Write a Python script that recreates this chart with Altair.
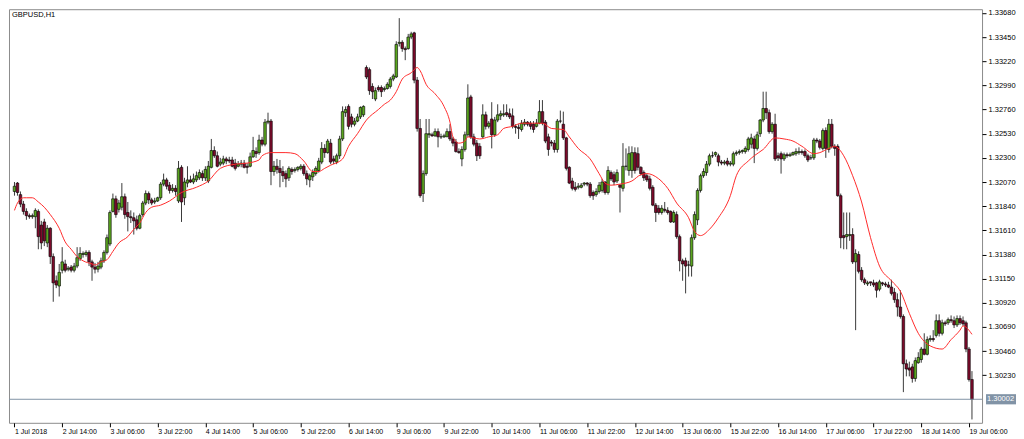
import json
import altair as alt
import pandas as pd

symbol_title = "GBPUSD,H1"

opens = [
1.3198,1.3206,1.3195,1.3186,1.3179,1.3175,1.3174,1.3174,1.3179,1.3166,
1.3169,1.3149,1.3163,1.3136,1.3113,1.3108,1.3123,1.3129,1.3124,1.3126,
1.3123,1.3127,1.3134,1.3138,1.3138,1.3140,1.3131,1.3126,1.3124,1.3126,
1.3132,1.3140,1.3148,1.3179,1.3191,1.3181,1.3183,1.3193,1.3178,1.3174,
1.3173,1.3171,1.3163,1.3176,1.3187,1.3196,1.3190,1.3188,1.3189,1.3192,
1.3205,1.3209,1.3204,1.3199,1.3201,1.3189,1.3221,1.3192,1.3206,1.3209,
1.3207,1.3209,1.3211,1.3215,1.3211,1.3208,1.3221,1.3237,1.3232,1.3224,
1.3225,1.3229,1.3228,1.3228,1.3225,1.3222,1.3224,1.3225,1.3222,1.3222,
1.3231,1.3236,1.3235,1.3247,1.3243,1.3264,1.3265,1.3217,1.3222,1.3220,
1.3217,1.3215,1.3211,1.3219,1.3218,1.3219,1.3220,1.3222,1.3215,1.3209,
1.3212,1.3215,1.3218,1.3226,1.3239,1.3235,1.3244,1.3229,1.3226,1.3232,
1.3248,1.3273,1.3279,1.3269,1.3262,1.3265,1.3269,1.3271,1.3316,1.3314,
1.3298,1.3286,1.3297,1.3297,1.3295,1.3296,1.3298,1.3305,1.3307,1.3339,
1.3340,1.3334,1.3334,1.3345,1.3349,1.3304,1.3258,1.3196,1.3215,1.3252,
1.3252,1.3251,1.3255,1.3250,1.3250,1.3250,1.3255,1.3248,1.3245,1.3236,
1.3229,1.3238,1.3252,1.3288,1.3250,1.3244,1.3241,1.3250,1.3271,1.3260,
1.3267,1.3252,1.3266,1.3270,1.3271,1.3273,1.3272,1.3270,1.3260,1.3259,
1.3257,1.3262,1.3264,1.3263,1.3262,1.3260,1.3263,1.3274,1.3264,1.3250,
1.3245,1.3244,1.3238,1.3265,1.3262,1.3249,1.3221,1.3208,1.3202,1.3202,
1.3202,1.3205,1.3206,1.3205,1.3197,1.3195,1.3198,1.3199,1.3207,1.3197,
1.3216,1.3214,1.3208,1.3204,1.3201,1.3222,1.3218,1.3218,1.3235,1.3234,
1.3221,1.3216,1.3213,1.3210,1.3202,1.3185,1.3182,1.3178,1.3181,1.3180,
1.3179,1.3169,1.3176,1.3155,1.3132,1.3132,1.3128,1.3127,1.3154,1.3171,
1.3199,1.3213,1.3216,1.3224,1.3232,1.3233,1.3232,1.3226,1.3225,1.3227,
1.3224,1.3224,1.3234,1.3235,1.3236,1.3236,1.3238,1.3243,1.3248,1.3239,
1.3253,1.3266,1.3277,1.3273,1.3255,1.3262,1.3232,1.3234,1.3229,1.3233,
1.3232,1.3233,1.3234,1.3235,1.3236,1.3236,1.3232,1.3230,1.3230,1.3247,
1.3246,1.3239,1.3256,1.3238,1.3262,1.3241,
1.3241,1.3194,1.3156,1.3155,1.3156,1.3157,1.3131,1.3138,1.3123,1.3114,
1.3110,
1.3112,1.3111,1.3111,1.3105,1.3111,1.3110,1.3109,1.3107,
1.3102,
1.3095,1.3088,1.3079,1.3034,1.3030,1.3031,1.3020,1.3035,1.3038,1.3048,
1.3043,1.3057,1.3058,1.3061,1.3075,1.3063,1.3073,1.3073,1.3076,1.3075,
1.3071,1.3077,
1.3075,
1.3073,1.3048,1.3019]

closes = [
1.3203,1.3197,1.3186,1.3179,1.3175,1.3174,1.3175,1.3180,1.3155,1.3149,
1.3151,1.3163,1.3136,1.3111,1.3109,1.3121,1.3131,1.3123,1.3125,1.3123,
1.3127,1.3135,1.3139,1.3139,1.3140,1.3131,1.3126,1.3124,1.3127,1.3132,
1.3140,1.3154,1.3178,1.3191,1.3176,1.3187,1.3193,1.3176,1.3174,1.3173,
1.3170,1.3163,1.3175,1.3187,1.3196,1.3190,1.3187,1.3189,1.3192,1.3205,
1.3209,1.3203,1.3199,1.3201,1.3198,1.3220,1.3188,1.3207,1.3209,1.3207,
1.3210,1.3213,1.3216,1.3211,1.3219,1.3222,1.3237,1.3232,1.3222,1.3226,
1.3229,1.3227,1.3227,1.3222,1.3220,1.3224,1.3225,1.3221,1.3221,1.3231,
1.3237,1.3234,1.3247,1.3243,1.3264,1.3265,1.3217,1.3222,1.3219,1.3216,
1.3213,1.3210,1.3220,1.3217,1.3219,1.3221,1.3222,1.3215,1.3210,1.3213,
1.3216,1.3220,1.3227,1.3239,1.3235,1.3246,1.3226,1.3227,1.3232,1.3248,
1.3274,1.3276,1.3260,1.3262,1.3265,1.3269,1.3278,1.3279,1.3307,1.3294,
1.3293,1.3294,1.3295,1.3293,1.3296,1.3300,1.3305,1.3308,1.3338,1.3340,
1.3334,1.3333,1.3345,1.3348,1.3304,1.3258,1.3194,1.3215,1.3253,1.3253,
1.3251,1.3255,1.3250,1.3250,1.3251,1.3255,1.3248,1.3244,1.3236,1.3235,
1.3238,1.3252,1.3287,1.3250,1.3243,1.3232,1.3232,1.3271,1.3260,1.3263,
1.3252,1.3266,1.3271,1.3272,1.3272,1.3271,1.3269,1.3260,1.3259,1.3258,
1.3263,1.3264,1.3262,1.3260,1.3257,1.3263,1.3274,1.3263,1.3246,1.3238,
1.3244,1.3238,1.3265,1.3265,1.3249,1.3220,1.3206,1.3201,1.3200,1.3203,
1.3204,1.3206,1.3205,1.3194,1.3194,1.3198,1.3204,1.3207,1.3197,1.3218,
1.3210,1.3207,1.3216,1.3202,1.3222,1.3222,1.3234,1.3235,1.3218,1.3221,
1.3215,1.3211,1.3209,1.3201,1.3185,1.3178,1.3178,1.3182,1.3180,1.3178,
1.3169,1.3178,1.3155,1.3132,1.3129,1.3127,1.3128,1.3154,1.3176,1.3199,
1.3213,1.3217,1.3224,1.3232,1.3232,1.3235,1.3226,1.3225,1.3226,1.3224,
1.3225,1.3234,1.3235,1.3236,1.3237,1.3239,1.3248,1.3249,1.3239,1.3252,
1.3266,1.3277,1.3273,1.3255,1.3262,1.3229,1.3230,1.3229,1.3233,1.3232,
1.3233,1.3235,1.3236,1.3236,1.3235,1.3232,1.3228,1.3230,1.3247,1.3246,
1.3240,1.3256,1.3239,1.3262,1.3241,1.3239,
1.3194,1.3154,1.3154,1.3157,1.3157,1.3131,1.3139,1.3122,1.3114,1.3111,
1.3111,
1.3111,1.3109,1.3104,1.3112,1.3110,1.3109,1.3107,1.3101,
1.3095,
1.3088,1.3079,1.3034,1.3029,1.3028,1.3020,1.3037,1.3040,1.3048,1.3043,
1.3057,1.3058,1.3057,1.3075,1.3063,1.3073,1.3072,1.3076,1.3075,1.3071,
1.3077,1.3073,
1.3072,
1.3048,1.3019,1.3000]

highs = [
1.3207,1.3207,1.3198,1.3189,1.3182,1.3177,1.3177,1.3182,1.3181,1.3170,
1.3172,1.3166,1.3164,1.3139,1.3118,1.3129,1.3145,1.3133,1.3127,1.3128,
1.3130,1.3145,1.3145,1.3141,1.3142,1.3142,1.3133,1.3130,1.3131,1.3135,
1.3142,1.3157,1.3180,1.3196,1.3194,1.3190,1.3206,1.3196,1.3188,1.3180,
1.3178,1.3175,1.3177,1.3189,1.3199,1.3198,1.3192,1.3192,1.3193,1.3207,
1.3215,1.3211,1.3207,1.3205,1.3204,1.3227,1.3223,1.3211,1.3222,1.3213,
1.3215,1.3217,1.3219,1.3218,1.3222,1.3227,1.3248,1.3241,1.3236,1.3230,
1.3232,1.3231,1.3231,1.3231,1.3229,1.3227,1.3228,1.3228,1.3225,1.3235,
1.3250,1.3240,1.3252,1.3250,1.3267,1.3273,1.3267,1.3227,1.3229,1.3228,
1.3222,1.3218,1.3222,1.3221,1.3221,1.3222,1.3224,1.3224,1.3218,1.3215,
1.3219,1.3222,1.3230,1.3245,1.3243,1.3248,1.3248,1.3232,1.3234,1.3251,
1.3279,1.3279,1.3281,1.3272,1.3268,1.3272,1.3279,1.3280,1.3318,1.3316,
1.3301,1.3297,1.3299,1.3299,1.3298,1.3302,1.3307,1.3310,1.3341,1.3363,
1.3342,1.3336,1.3348,1.3350,1.3350,1.3307,1.3267,1.3218,1.3267,1.3267,
1.3254,1.3258,1.3258,1.3253,1.3253,1.3258,1.3262,1.3250,1.3248,1.3239,
1.3241,1.3255,1.3300,1.3290,1.3253,1.3247,1.3244,1.3281,1.3274,1.3265,
1.3283,1.3269,1.3281,1.3275,1.3281,1.3281,1.3277,1.3277,1.3262,1.3262,
1.3266,1.3267,1.3265,1.3265,1.3265,1.3267,1.3285,1.3285,1.3266,1.3253,
1.3247,1.3247,1.3267,1.3275,1.3274,1.3250,1.3222,1.3211,1.3207,1.3206,
1.3206,1.3207,1.3207,1.3207,1.3199,1.3201,1.3207,1.3210,1.3208,1.3222,
1.3218,1.3217,1.3219,1.3205,1.3244,1.3239,1.3241,1.3241,1.3240,1.3240,
1.3222,1.3218,1.3215,1.3213,1.3204,1.3187,1.3185,1.3185,1.3188,1.3183,
1.3180,1.3180,1.3179,1.3157,1.3134,1.3135,1.3132,1.3157,1.3179,1.3201,
1.3215,1.3220,1.3227,1.3234,1.3236,1.3236,1.3234,1.3228,1.3228,1.3230,
1.3227,1.3236,1.3237,1.3238,1.3238,1.3241,1.3250,1.3253,1.3251,1.3255,
1.3267,1.3293,1.3293,1.3276,1.3264,1.3272,1.3235,1.3236,1.3235,1.3235,
1.3235,1.3236,1.3239,1.3240,1.3238,1.3238,1.3234,1.3233,1.3249,1.3249,
1.3248,1.3258,1.3259,1.3267,1.3267,1.3243,
1.3243,1.3196,1.3178,1.3178,1.3178,1.3163,1.3143,1.3141,1.3126,1.3116,
1.3113,
1.3112,1.3114,1.3112,1.3114,1.3112,1.3112,1.3112,1.3114,
1.3106,
1.3101,1.3104,1.3081,1.3038,1.3036,1.3034,1.3040,1.3045,1.3050,1.3063,
1.3060,1.3061,1.3066,1.3081,1.3081,1.3076,1.3075,1.3078,1.3080,1.3079,
1.3080,1.3080,
1.3079,
1.3075,1.3050,1.3027]

lows = [
1.3194,1.3194,1.3183,1.3176,1.3171,1.3172,1.3172,1.3163,1.3143,1.3143,
1.3146,1.3145,1.3129,1.3093,1.3106,1.3098,1.3120,1.3121,1.3122,1.3121,
1.3121,1.3125,1.3132,1.3135,1.3136,1.3127,1.3113,1.3120,1.3121,1.3124,
1.3130,1.3138,1.3146,1.3178,1.3173,1.3178,1.3180,1.3172,1.3160,1.3168,
1.3157,1.3161,1.3162,1.3174,1.3185,1.3186,1.3185,1.3186,1.3188,1.3190,
1.3203,1.3200,1.3196,1.3197,1.3194,1.3187,1.3169,1.3185,1.3202,1.3206,
1.3205,1.3207,1.3209,1.3208,1.3208,1.3206,1.3220,1.3230,1.3221,1.3222,
1.3223,1.3224,1.3225,1.3221,1.3218,1.3221,1.3221,1.3220,1.3215,1.3221,
1.3230,1.3230,1.3233,1.3241,1.3241,1.3262,1.3204,1.3213,1.3215,1.3202,
1.3207,1.3202,1.3208,1.3214,1.3216,1.3217,1.3218,1.3213,1.3204,1.3202,
1.3208,1.3213,1.3216,1.3224,1.3230,1.3234,1.3224,1.3224,1.3224,1.3229,
1.3246,1.3269,1.3257,1.3259,1.3260,1.3264,1.3267,1.3269,1.3305,1.3290,
1.3286,1.3284,1.3293,1.3288,1.3293,1.3295,1.3296,1.3303,1.3306,1.3336,
1.3331,1.3323,1.3333,1.3343,1.3301,1.3255,1.3192,1.3188,1.3213,1.3249,
1.3250,1.3250,1.3240,1.3248,1.3249,1.3250,1.3246,1.3241,1.3235,1.3234,
1.3222,1.3236,1.3250,1.3248,1.3241,1.3227,1.3229,1.3249,1.3257,1.3258,
1.3239,1.3250,1.3264,1.3266,1.3269,1.3269,1.3267,1.3258,1.3253,1.3248,
1.3255,1.3260,1.3260,1.3257,1.3254,1.3259,1.3262,1.3261,1.3244,1.3232,
1.3241,1.3235,1.3235,1.3263,1.3247,1.3218,1.3205,1.3199,1.3198,1.3200,
1.3201,1.3203,1.3203,1.3192,1.3190,1.3193,1.3196,1.3197,1.3195,1.3195,
1.3208,1.3204,1.3206,1.3178,1.3198,1.3218,1.3213,1.3211,1.3215,1.3218,
1.3213,1.3208,1.3207,1.3199,1.3184,1.3169,1.3176,1.3176,1.3178,1.3176,
1.3168,1.3168,1.3153,1.3122,1.3113,1.3101,1.3117,1.3117,1.3152,1.3166,
1.3197,1.3211,1.3213,1.3222,1.3230,1.3231,1.3222,1.3223,1.3223,1.3222,
1.3222,1.3222,1.3232,1.3233,1.3234,1.3234,1.3236,1.3239,1.3225,1.3237,
1.3250,1.3264,1.3267,1.3253,1.3253,1.3227,1.3227,1.3215,1.3227,1.3230,
1.3231,1.3232,1.3232,1.3233,1.3233,1.3230,1.3226,1.3228,1.3228,1.3244,
1.3238,1.3237,1.3230,1.3235,1.3239,1.3232,
1.3193,1.3144,1.3143,1.3143,1.3151,1.3129,1.3066,1.3120,1.3112,1.3109,
1.3108,
1.3108,1.3107,1.3097,1.3103,1.3108,1.3107,1.3106,1.3099,
1.3092,
1.3079,1.3077,1.3007,1.3022,1.3022,1.3016,1.3017,1.3034,1.3035,1.3042,
1.3042,1.3055,1.3055,1.3059,1.3060,1.3061,1.3070,1.3071,1.3073,1.3068,
1.3069,1.3071,
1.3070,
1.3045,1.3017,1.2981]

ma_idx = [0,1,3,4,6,8,10,12,15,17,19,21,23,26,27,29,31,33,35,38,40,42,44,46,49,52,56,61,65,69,
          74,78,82,83,86,91,94,97,100,102,104,106,110,112,115,118,122,124,126,128,130,133,135,136,138,
          141,144,146,147,149,151,152,156,159,162,164,167,170,174,177,180,184,186,189,193,196,198,200,
          203,207,210,212,216,219,222,226,228,230,233,236,240,242,246,248,251,255,258,261,264,268,270,
          273,275,278,281,284,287,290,294,297,300,303,307,311,314,317,318,321]
ma_val = [1.3180,1.3187,1.3192,1.3192,1.3192,1.3188,1.3183,1.3176,1.3163,1.3150,
          1.3143,1.3136,1.3132,1.3129,1.3128,1.3131,1.3133,1.3141,1.3149,1.3155,
          1.3162,1.3168,1.3178,1.3183,1.3185,1.3189,1.3197,1.3202,1.3208,1.3220,
          1.3224,1.3225,1.3228,1.3232,1.3235,1.3235,1.3234,1.3227,1.3217,1.3217,
          1.3220,1.3223,1.3229,1.3241,1.3253,1.3266,1.3276,1.3281,1.3285,1.3293,
          1.3305,1.3311,1.3316,1.3313,1.3300,1.3291,1.3279,1.3264,1.3250,1.3244,
          1.3246,1.3250,1.3248,1.3250,1.3252,1.3258,1.3260,1.3263,1.3263,1.3263,
          1.3258,1.3257,1.3250,1.3239,1.3229,1.3215,1.3206,1.3204,1.3205,1.3208,
          1.3214,1.3215,1.3210,1.3201,1.3187,1.3173,1.3160,1.3156,1.3162,1.3173,
          1.3194,1.3213,1.3227,1.3232,1.3238,1.3249,1.3248,1.3246,1.3241,1.3234,
          1.3235,1.3239,1.3241,1.3232,1.3213,1.3188,1.3154,1.3127,1.3113,1.3103,
          1.3082,1.3063,1.3051,1.3048,1.3057,1.3066,1.3070,1.3062]

time_labels = ["1 Jul 2018", "2 Jul 14:00", "3 Jul 06:00", "3 Jul 22:00", "4 Jul 14:00",
               "5 Jul 06:00", "5 Jul 22:00", "6 Jul 14:00", "9 Jul 06:00", "9 Jul 22:00",
               "10 Jul 14:00", "11 Jul 06:00", "11 Jul 22:00", "12 Jul 14:00", "13 Jul 06:00",
               "15 Jul 22:00", "16 Jul 14:00", "17 Jul 06:00", "17 Jul 22:00", "18 Jul 14:00",
               "19 Jul 06:00"]
label_step = 16
price_ticks = [1.30230, 1.30460, 1.30690, 1.30920, 1.31150, 1.31380, 1.31610, 1.31840,
               1.32070, 1.32300, 1.32530, 1.32760, 1.32990, 1.33220, 1.33450, 1.33680]
last_price = [1.30002]
last_label = ["1.30002"]

n = len(opens)
df = pd.DataFrame({"i": list(range(n)), "open": opens, "high": highs,
                   "low": lows, "close": closes})
ma_df = pd.DataFrame({"i": ma_idx, "v": ma_val})
lp_df = pd.DataFrame({"p": last_price, "t": last_label})
title_df = pd.DataFrame({"t": [symbol_title]})

W, H = 974, 414
FONT = "Liberation Sans"
BULL = "#5aa51f"
BEAR = "#7c0b2b"

xs = alt.Scale(domain=[-0.16, 322.7], nice=False, zero=False)
ys = alt.Scale(domain=[1.29778, 1.33715], nice=False, zero=False)

x_axis = alt.Axis(values=[k * label_step for k in range(len(time_labels))],
                  labelExpr=json.dumps(time_labels) + "[round(datum.value/16)]",
                  orient="bottom", title=None, grid=False, domain=False,
                  tickSize=4, tickColor="#000", labelAlign="left", labelPadding=1,
                  labelFontSize=7, labelFont=FONT, labelColor="#000",
                  labelOverlap=False, labelFlush=False, labelBound=False)
y_axis = alt.Axis(values=price_ticks, format=".5f", orient="right", title=None,
                  grid=False, domain=False, tickSize=4, tickColor="#000",
                  labelPadding=2, labelFontSize=7.5, labelFont=FONT, labelColor="#000",
                  labelOverlap=False, labelFlush=False, labelBound=False)


def X(field):
    return alt.X(field, scale=xs, axis=x_axis)


def Y(field):
    return alt.Y(field, scale=ys, axis=y_axis)


base = alt.Chart(df)
wicks = base.mark_rule(color="#3a3a3a", strokeWidth=1).encode(
    x=X("i:Q"), y=Y("low:Q"), y2="high:Q",
)
bodies = base.mark_bar(width=2.6, stroke="#000", strokeWidth=0.6).encode(
    x=X("i:Q"), y=Y("open:Q"), y2="close:Q",
    fill=alt.condition("datum.close >= datum.open", alt.value(BULL), alt.value(BEAR)),
)
ma = alt.Chart(ma_df).mark_line(color="#ff2b2b", strokeWidth=1, interpolate="monotone").encode(
    x=X("i:Q"), y=Y("v:Q"),
)
lp_rule = alt.Chart(lp_df).mark_rule(color="#8193a6", strokeWidth=1).encode(
    y=Y("p:Q")
)
lp_box = alt.Chart(lp_df).mark_point(shape="M-1,-0.34H1V0.34H-1Z", size=900, filled=True,
                                     fill="#8193a6", opacity=1, strokeWidth=0).encode(
    x=alt.value(W + 19), y=Y("p:Q"),
)
lp_text = alt.Chart(lp_df).mark_text(align="left", baseline="middle", fontSize=7.5,
                                     font=FONT, color="white").encode(
    x=alt.value(W + 5), y=Y("p:Q"), text="t:N",
)
title = alt.Chart(title_df).mark_text(align="left", baseline="top", fontSize=7.5,
                                      font=FONT, color="#000").encode(
    x=alt.value(3), y=alt.value(2), text="t:N"
)

chart = alt.layer(wicks, bodies, ma, lp_rule, lp_box, lp_text, title).properties(
    width=W, height=H, padding=0
).configure(background="white").configure_view(stroke="#8c8c8c", strokeWidth=1)

chart.save("out.html", embed_options={"renderer": "svg", "actions": False})
